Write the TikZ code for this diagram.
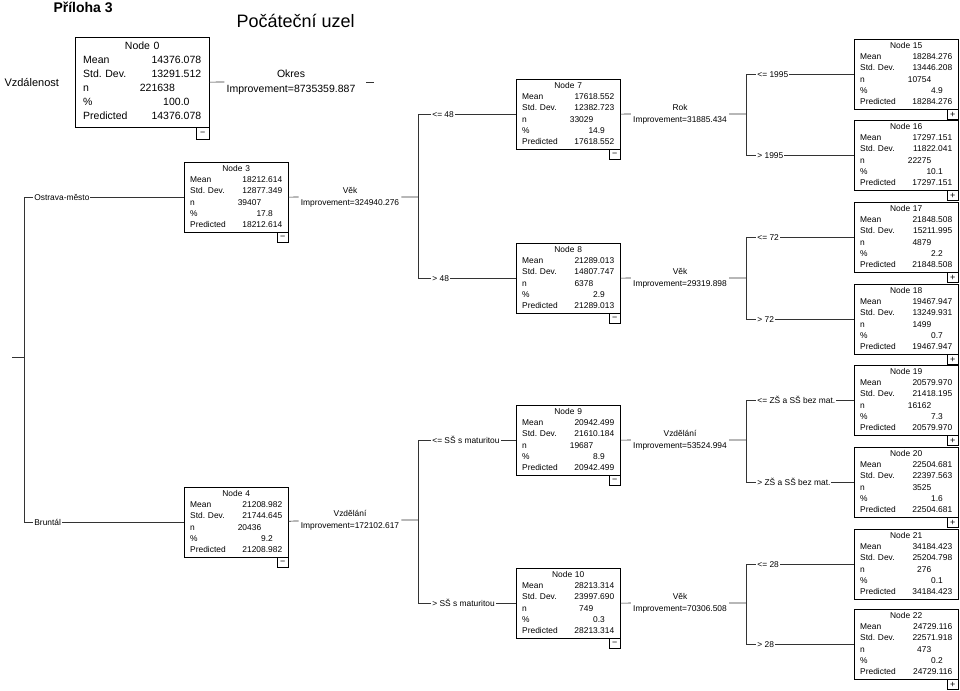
\documentclass[tikz,border=0pt]{standalone}
\usepackage{fontspec}
\setmainfont{Liberation Sans}
\usepackage{tikz}
\frenchspacing

% statistics table of one tree node
\newcommand{\stats}[6]{%
  \begin{tabular*}{\linewidth}{@{}l@{\extracolsep{\fill}}r@{}}
    \multicolumn{2}{@{}c@{}}{#1}\\
    Mean & #2\\
    Std.\ Dev. & #3\\
    n & #4\phantom{0.000}\\
    \% & #5\phantom{00}\\
    Predicted & #6
  \end{tabular*}}

\begin{document}
\begin{tikzpicture}[x=1pt,y=-1pt]

  \tikzset{tbox/.style = {draw,anchor=north west,inner xsep=6pt,inner ysep=0pt,text width=92pt,minimum height=70pt,font=\fontsize{8.4}{11.2}\selectfont}}
  \tikzset{rootbox/.style = {tbox,inner xsep=8pt,text width=118pt,minimum height=90pt,font=\fontsize{10.5}{14}\selectfont}}
  \tikzset{info/.style = {align=center,inner sep=2pt,font=\fontsize{8.4}{12}\selectfont}}
  \tikzset{rootinfo/.style = {info,font=\fontsize{10.5}{15}\selectfont}}
  \tikzset{split/.style = {pos=0.5,anchor=west,fill=white,inner sep=1pt,font=\fontsize{8.4}{10}\selectfont}}
  \tikzset{pm/.style = {draw,anchor=north east,inner sep=0pt,minimum width=11pt,minimum height=10pt,font=\fontsize{9}{9}\selectfont}}
  \tikzset{edge/.style = {draw=black!80,line width=0.7pt}}

  \useasboundingbox (0,0) rectangle (960,690);

  % titles
  \node[anchor=base west,font=\fontsize{14}{16}\selectfont\bfseries] (title) at (50,13) {Příloha 3};
  \node[anchor=base west,font=\fontsize{18}{20}\selectfont] (start) at (233,28) {Počáteční uzel};
  \node[anchor=base west,font=\fontsize{11}{13}\selectfont] (target) at (1,87) {Vzdálenost};

  % vertices
  \node[rootbox] (n0) at (75,37) {\stats{Node 0}{14376.078}{13291.512}{221638}{100.0}{14376.078}};
  \node[tbox] (n3) at (184,162) {\stats{Node 3}{18212.614}{12877.349}{39407}{17.8}{18212.614}};
  \node[tbox] (n4) at (184,487) {\stats{Node 4}{21208.982}{21744.645}{20436}{9.2}{21208.982}};
  \node[tbox] (n7) at (516,79) {\stats{Node 7}{17618.552}{12382.723}{33029}{14.9}{17618.552}};
  \node[tbox] (n8) at (516,243) {\stats{Node 8}{21289.013}{14807.747}{6378}{2.9}{21289.013}};
  \node[tbox] (n9) at (516,405) {\stats{Node 9}{20942.499}{21610.184}{19687}{8.9}{20942.499}};
  \node[tbox] (n10) at (516,568) {\stats{Node 10}{28213.314}{23997.690}{749}{0.3}{28213.314}};
  \node[tbox] (n15) at (854,39) {\stats{Node 15}{18284.276}{13446.208}{10754}{4.9}{18284.276}};
  \node[tbox] (n16) at (854,120) {\stats{Node 16}{17297.151}{11822.041}{22275}{10.1}{17297.151}};
  \node[tbox] (n17) at (854,202) {\stats{Node 17}{21848.508}{15211.995}{4879}{2.2}{21848.508}};
  \node[tbox] (n18) at (854,284) {\stats{Node 18}{19467.947}{13249.931}{1499}{0.7}{19467.947}};
  \node[tbox] (n19) at (854,365) {\stats{Node 19}{20579.970}{21418.195}{16162}{7.3}{20579.970}};
  \node[tbox] (n20) at (854,447) {\stats{Node 20}{22504.681}{22397.563}{3525}{1.6}{22504.681}};
  \node[tbox] (n21) at (854,529) {\stats{Node 21}{34184.423}{25204.798}{276}{0.1}{34184.423}};
  \node[tbox] (n22) at (854,609) {\stats{Node 22}{24729.116}{22571.918}{473}{0.2}{24729.116}};

  % collapse / expand buttons
  \node[pm,minimum width=13pt,minimum height=12pt] (m0) at (n0.south east) {−};
  \node[pm] (m3) at (n3.south east) {−};
  \node[pm] (m4) at (n4.south east) {−};
  \node[pm] (m7) at (n7.south east) {−};
  \node[pm] (m8) at (n8.south east) {−};
  \node[pm] (m9) at (n9.south east) {−};
  \node[pm] (m10) at (n10.south east) {−};
  \node[pm] (p15) at (n15.south east) {+};
  \node[pm] (p16) at (n16.south east) {+};
  \node[pm] (p17) at (n17.south east) {+};
  \node[pm] (p18) at (n18.south east) {+};
  \node[pm] (p19) at (n19.south east) {+};
  \node[pm] (p20) at (n20.south east) {+};
  \node[pm] (p22) at (n22.south east) {+};

  % splits
  \node[rootinfo] (i0) at (291,82) {Okres\\Improvement=8735359.887};
  \node[info] (i3) at (350,197) {Věk\\Improvement=324940.276};
  \node[info] (i4) at (350,520) {Vzdělání\\Improvement=172102.617};
  \node[info] (i7) at (680,114) {Rok\\Improvement=31885.434};
  \node[info] (i8) at (680,278) {Věk\\Improvement=29319.898};
  \node[info] (i9) at (680,440) {Vzdělání\\Improvement=53524.994};
  \node[info] (i10) at (680,603) {Věk\\Improvement=70306.508};

  \coordinate (r0) at (366,82);
  \coordinate (r1) at (374,82);
  \coordinate (s0) at (12,357);
  \coordinate (j0) at (24,357);
  \coordinate (j3) at (418,197);
  \coordinate (j4) at (418,520);
  \coordinate (j7) at (746,114);
  \coordinate (j8) at (746,278);
  \coordinate (j9) at (746,440);
  \coordinate (j10) at (746,603);

  %edges
  \draw[edge] (n0) -- (i0);
  \draw[edge] (r0) -- (r1);
  \draw[edge] (s0) -- (j0);
  \draw[edge] (j0) |- (n3) node[split,xshift=9pt] {Ostrava-město};
  \draw[edge] (j0) |- (n4) node[split,xshift=9pt] {Bruntál};
  \draw[edge] (n3) -- (i3) -- (j3);
  \draw[edge] (n4) -- (i4) -- (j4);
  \draw[edge] (j3) |- (n7) node[split,xshift=13pt] {<= 48};
  \draw[edge] (j3) |- (n8) node[split,xshift=13pt] {> 48};
  \draw[edge] (j4) |- (n9) node[split,xshift=13pt] {<= SŠ s maturitou};
  \draw[edge] (j4) |- (n10) node[split,xshift=13pt] {> SŠ s maturitou};
  \draw[edge] (n7) -- (i7) -- (j7);
  \draw[edge] (n8) -- (i8) -- (j8);
  \draw[edge] (n9) -- (i9) -- (j9);
  \draw[edge] (n10) -- (i10) -- (j10);
  \draw[edge] (j7) |- (n15) node[split,xshift=10pt] {<= 1995};
  \draw[edge] (j7) |- (n16) node[split,xshift=10pt] {> 1995};
  \draw[edge] (j8) |- (n17) node[split,xshift=10pt] {<= 72};
  \draw[edge] (j8) |- (n18) node[split,xshift=10pt] {> 72};
  \draw[edge] (j9) |- (n19) node[split,xshift=10pt] {<= ZŠ a SŠ bez mat.};
  \draw[edge] (j9) |- (n20) node[split,xshift=10pt] {> ZŠ a SŠ bez mat.};
  \draw[edge] (j10) |- (n21) node[split,xshift=10pt] {<= 28};
  \draw[edge] (j10) |- (n22) node[split,xshift=10pt] {> 28};
\end{tikzpicture}
\end{document}
